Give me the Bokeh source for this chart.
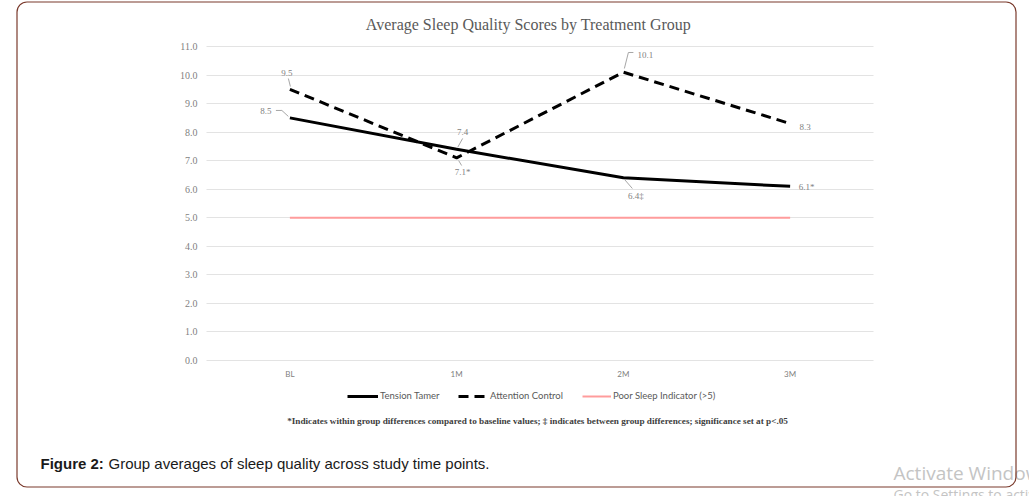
from bokeh.plotting import figure
from bokeh.models import (ColumnDataSource, Label, LabelSet, Legend, LegendItem,
                          FixedTicker, PrintfTickFormatter, BoxAnnotation, Range1d)
from bokeh.core.properties import value
from bokeh.embed import file_html
from bokeh.resources import INLINE

# ---------------- data ----------------
time_points = ["BL", "1M", "2M", "3M"]
tension_tamer = [8.5, 7.4, 6.4, 6.1]
attention_control = [9.5, 7.1, 10.1, 8.3]
poor_sleep = [5.0, 5.0, 5.0, 5.0]
tt_marks = ["", "", "‡", "*"]
ac_marks = ["", "*", "", ""]
y_ticks = [0, 1, 2, 3, 4, 5, 6, 7, 8, 9, 10, 11]

title_text = "Average Sleep Quality Scores by Treatment Group"
series_names = ["Tension Tamer", "Attention Control", "Poor Sleep Indicator (>5)"]
footnote = ("*Indicates within group differences compared to baseline values; "
            "‡ indicates between group differences; significance set at p<.05")
caption_bold = "Figure 2:"
caption_rest = "Group averages of sleep quality across study time points."

# ---------------- layout constants ----------------
W, H = 1029, 496
AREA_L, AREA_R, AREA_T, AREA_B = 206, 873, 46, 360   # plot area in pixels
Y_MAX = 11
X_LO, X_HI = -0.5, len(time_points) - 0.5
PX_X = (AREA_R - AREA_L) / (X_HI - X_LO)
PX_Y = (AREA_B - AREA_T) / Y_MAX

SERIF = "Liberation Serif"
SANS = "Lato"

xs = list(range(len(time_points)))

# the frame covers the whole canvas; ranges chosen so that the plot area
# sits where it does in the original figure
p = figure(width=W, height=H, output_backend="svg", toolbar_location=None,
           x_range=Range1d(X_LO - AREA_L / PX_X, X_HI + (W - AREA_R) / PX_X),
           y_range=Range1d(0 - (H - AREA_B) / PX_Y, Y_MAX + AREA_T / PX_Y),
           min_border=0)
p.outline_line_color = None
p.background_fill_color = "white"
p.border_fill_color = "white"
p.title.text = ""

# axes drawn at fixed locations (take no panel space)
p.xaxis.fixed_location = 0
p.xaxis.bounds = (X_LO, X_HI)
p.xaxis.ticker = FixedTicker(ticks=xs)
p.xaxis.major_label_overrides = {i: t for i, t in enumerate(time_points)}
p.xaxis.axis_line_color = None
p.xaxis.major_tick_line_color = None
p.xaxis.major_tick_out = 0
p.xaxis.minor_tick_line_color = None
p.xaxis.major_label_text_font = SANS
p.xaxis.major_label_text_font_size = "8px"
p.xaxis.major_label_text_color = "#7f7f7f"
p.xaxis.major_label_standoff = 8

p.yaxis.fixed_location = X_LO
p.yaxis.bounds = (0, Y_MAX)
p.yaxis.ticker = FixedTicker(ticks=y_ticks)
p.yaxis.formatter = PrintfTickFormatter(format="%.1f")
p.yaxis.axis_line_color = None
p.yaxis.major_tick_line_color = None
p.yaxis.major_tick_out = 0
p.yaxis.minor_tick_line_color = None
p.yaxis.major_label_text_font = SERIF
p.yaxis.major_label_text_font_size = "10px"
p.yaxis.major_label_text_color = "#7f7f7f"
p.yaxis.major_label_standoff = 9

p.xgrid.grid_line_color = None
GRID_COLOR = "#e3e3e3"
try:
    p.ygrid.cross_bounds = (X_LO, X_HI)
    p.ygrid.ticker = FixedTicker(ticks=y_ticks)
    p.ygrid.grid_line_color = GRID_COLOR
    p.ygrid.grid_line_width = 1
except AttributeError:
    p.ygrid.grid_line_color = None
    p.segment(x0=[X_LO] * len(y_ticks), y0=y_ticks, x1=[X_HI] * len(y_ticks),
              y1=y_ticks, line_color=GRID_COLOR, line_width=1)

# series
r_poor = p.line(xs, poor_sleep, line_color="#ff9c9c", line_width=2)
r_ac = p.line(xs, attention_control, line_color="black", line_width=3, line_dash="10 6")
r_tt = p.line(xs, tension_tamer, line_color="black", line_width=3)

# data labels (text built from values)
tt_text = ["%.1f%s" % (v, m) for v, m in zip(tension_tamer, tt_marks)]
ac_text = ["%.1f%s" % (v, m) for v, m in zip(attention_control, ac_marks)]
tt_xoff = [-24, 6, 12.5, 16.5]
tt_yoff = [6.5, 17, -18, -1]
ac_xoff = [-3, 6, 22, 15]
ac_yoff = [16, -14, 17, -3]

lab_src = ColumnDataSource(dict(
    x=xs + xs, y=tension_tamer + attention_control, text=tt_text + ac_text,
    xo=tt_xoff + ac_xoff, yo=tt_yoff + ac_yoff))
p.add_layout(LabelSet(x="x", y="y", text="text", source=lab_src,
                      x_offset="xo", y_offset="yo",
                      text_align="center", text_baseline="middle",
                      text_font=value(SERIF), text_font_size="9px",
                      text_color="#7f7f7f"))

# leader lines: pixel offsets from the data point (dx right, dy down)
leaders = [
    (0, tension_tamer, [(-14, -7.4), (-8, -7.4), (-1.5, -1.4)]),
    (1, tension_tamer, [(6, -10.8), (1, -1.8)]),
    (2, tension_tamer, [(1, 1.5), (9, 10.7)]),
    (0, attention_control, [(-1.5, -10.8), (0.5, -2.8)]),
    (1, attention_control, [(2, 2.7), (5, 7.7)]),
    (2, attention_control, [(10, -19.7), (5, -19.7), (1, -3.7)]),
]
lx, ly = [], []
for i, series, pts in leaders:
    lx.append([xs[i] + dx / PX_X for dx, dy in pts])
    ly.append([series[i] - dy / PX_Y for dx, dy in pts])
p.multi_line(lx, ly, line_color="#a6a6a6", line_width=1)

# legends (one item each, placed like the original); location = bottom-left
def add_legend(name, renderer, left, glyph_w, center_y=396):
    lg = Legend(items=[LegendItem(label=name, renderers=[renderer])],
                location=(left, H - center_y - 5), orientation="horizontal",
                padding=0, margin=0, border_line_color=None,
                background_fill_alpha=0, glyph_width=glyph_w, glyph_height=10,
                label_standoff=2, label_height=10,
                label_text_font=SANS, label_text_font_size="9.5px",
                label_text_color="#595959")
    p.add_layout(lg, "center")

add_legend(series_names[0], r_tt, 347, 31)
add_legend(series_names[1], r_ac, 458, 30)
add_legend(series_names[2], r_poor, 582, 29)

# free texts (screen coordinates: x from left, y from top converted)
def label(x, y, text, **kw):
    p.add_layout(Label(x=x, y=H - y, x_units="screen", y_units="screen", text=text, **kw))

label(528, 24, title_text, text_align="center", text_baseline="middle",
      text_font=SERIF, text_font_size="16px", text_color="#595959")
label(537, 420, footnote, text_align="center", text_baseline="middle",
      text_font=SERIF, text_font_size="9.2px", text_font_style="bold",
      text_color="#404040")
label(40, 463, caption_bold, text_align="left", text_baseline="middle",
      text_font="Liberation Sans", text_font_size="15px", text_font_style="bold",
      text_color="#1a1a1a")
label(108, 463, caption_rest, text_align="left", text_baseline="middle",
      text_font="Liberation Sans", text_font_size="15px", text_color="#1a1a1a")
label(893, 472, "Activate Windows", text_align="left", text_baseline="middle",
      text_font="Open Sans", text_font_size="19px", text_color="#c4c4c4")
label(893, 494, "Go to Settings to activate Windows.", text_align="left",
      text_baseline="middle", text_font="Open Sans", text_font_size="14px",
      text_color="#c4c4c4")

# rounded outer frame (half-pixel positions for a crisp 1px line)
p.add_layout(BoxAnnotation(left=16.5, right=1015.5, top=H - 1.5, bottom=H - 486.5,
                           left_units="screen", right_units="screen",
                           top_units="screen", bottom_units="screen",
                           fill_alpha=0, line_color="#7a3a2c", line_alpha=1.0,
                           line_width=1.2, border_radius=10))

open("out.html", "w").write(file_html(p, INLINE))
